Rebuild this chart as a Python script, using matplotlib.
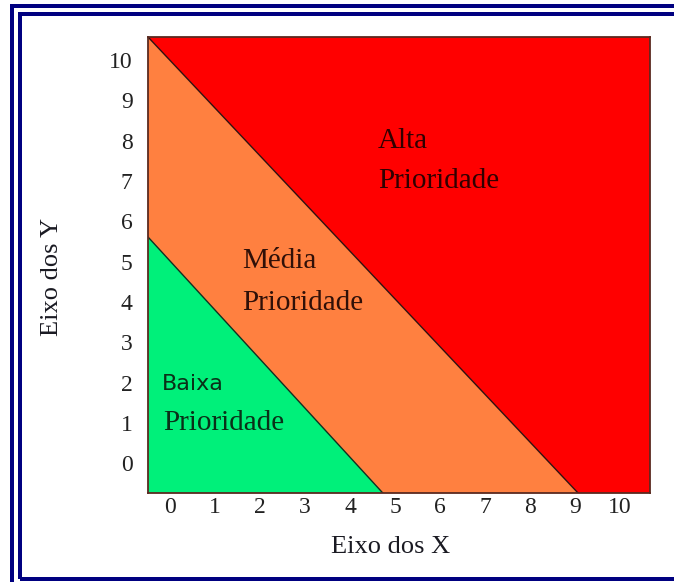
import matplotlib
matplotlib.use('Agg')
import matplotlib.pyplot as plt
from matplotlib.patches import Polygon, Rectangle

# dados do gráfico (limites das regiões de prioridade)
x_lim = [-0.49, 10.67]
y_lim = [-0.74, 10.57]
ticks = list(range(0, 11))
limite_alta_x = [-0.49, 9.07]     # reta entre média e alta
limite_alta_y = [10.57, -0.74]
limite_baixa_x = [-0.49, 4.73]    # reta entre baixa e média
limite_baixa_y = [5.61, -0.74]

cor_alta = '#ff0000'
cor_media = '#ff8040'
cor_baixa = '#00f07a'

W, H = 674, 582
fig = plt.figure(figsize=(W / 100, H / 100), dpi=100)
fig.patch.set_facecolor('white')

def px(x, y):
    """pixel (origem no topo) -> fração da figura"""
    return x / W, 1 - y / H

l, t = px(148, 37)
r, b = px(650, 493)
ax = fig.add_axes([l, b, r - l, t - b])
ax.set_xlim(*x_lim)
ax.set_ylim(*y_lim)

x0, x1 = x_lim
y0, y1 = y_lim
verde = [(limite_baixa_x[0], limite_baixa_y[0]), (limite_baixa_x[1], limite_baixa_y[1]), (x0, y0)]
laranja = [(limite_alta_x[0], limite_alta_y[0]), (limite_alta_x[1], limite_alta_y[1]),
           (limite_baixa_x[1], limite_baixa_y[1]), (limite_baixa_x[0], limite_baixa_y[0])]
vermelho = [(limite_alta_x[0], limite_alta_y[0]), (x1, y1), (x1, y0), (limite_alta_x[1], limite_alta_y[1])]
ax.add_patch(Polygon(vermelho, closed=True, facecolor=cor_alta, edgecolor='none'))
ax.add_patch(Polygon(laranja, closed=True, facecolor=cor_media, edgecolor='none'))
ax.add_patch(Polygon(verde, closed=True, facecolor=cor_baixa, edgecolor='none'))
ax.plot(limite_alta_x, limite_alta_y, color='#301010', lw=1.0)
ax.plot(limite_baixa_x, limite_baixa_y, color='#103020', lw=1.0)

for s in ax.spines.values():
    s.set_color('#5a2a20')
    s.set_linewidth(1.3)

serif = 'Liberation Serif'
ax.set_xticks(ticks)
ax.set_yticks(ticks)
ax.set_xticklabels([str(v) for v in ticks], fontfamily=serif, fontsize=17, color='#222222')
ax.set_yticklabels([str(v) for v in ticks], fontfamily=serif, fontsize=17, color='#222222')
ax.tick_params(axis='x', length=0, pad=3)
ax.tick_params(axis='y', length=0, pad=11)

# rótulos dos eixos
fig.text(*px(391, 553), 'Eixo dos X', ha='center', va='baseline', fontfamily=serif,
         fontsize=19, color='#1a1a22')
fig.text(*px(52, 277), 'Eixo dos Y', ha='center', va='center', rotation=90, fontfamily=serif,
         fontsize=19, color='#1a1a22')

# textos das regiões
fs = 21
fig.text(*px(378, 148), 'Alta', ha='left', va='baseline', fontfamily=serif, fontsize=fs, color='#300000')
fig.text(*px(378, 188), 'Prioridade', ha='left', va='baseline', fontfamily=serif, fontsize=fs, color='#300000')
fig.text(*px(242, 268), 'Média', ha='left', va='baseline', fontfamily=serif, fontsize=fs, color='#301008')
fig.text(*px(242, 310), 'Prioridade', ha='left', va='baseline', fontfamily=serif, fontsize=fs, color='#301008')
fig.text(*px(162, 390), 'Baixa', ha='left', va='baseline', fontfamily='DejaVu Sans', fontsize=16,
         color='#0a3018')
fig.text(*px(163, 430), 'Prioridade', ha='left', va='baseline', fontfamily=serif, fontsize=fs, color='#0a3018')

# moldura azul dupla (cortada à direita e embaixo)
azul = '#000080'
lw = 4 * 72 / 100
fig.add_artist(Rectangle(px(12, 640), (W + 40) / W, (640 - 5.5) / H, transform=fig.transFigure,
                         fill=False, edgecolor=azul, linewidth=lw, clip_on=False))
fig.add_artist(Rectangle(px(20, 579), (W + 40) / W, (579 - 14) / H, transform=fig.transFigure,
                         fill=False, edgecolor=azul, linewidth=lw, clip_on=False))

fig.savefig('out.png', dpi=100)
